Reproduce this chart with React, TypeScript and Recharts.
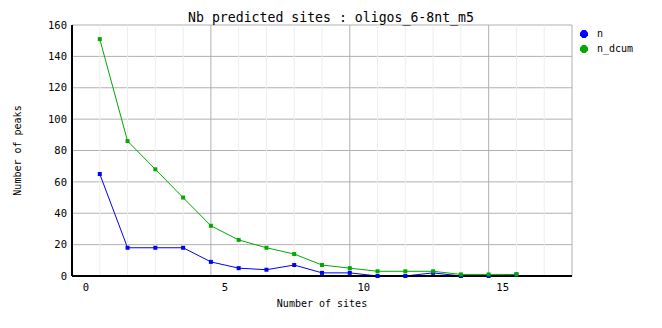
import { CartesianGrid, Line, LineChart, ReferenceLine, XAxis, YAxis } from "recharts";

const FONT = "'DejaVu Sans Mono', monospace";

const sites = [1, 2, 3, 4, 5, 6, 7, 8, 9, 10, 11, 12, 13, 14, 15, 16];
const nValues = [65, 18, 18, 18, 9, 5, 4, 7, 2, 2, 0, 0, 2, 0, 0, 1];
const nDcumValues = [151, 86, 68, 50, 32, 23, 18, 14, 7, 5, 3, 3, 3, 1, 1, 1];
const xTicks = [0, 5, 10, 15];
const minorXTicks = [1, 2, 3, 4, 6, 7, 8, 9, 11, 12, 13, 14, 16, 17];
const yTicks = [0, 20, 40, 60, 80, 100, 120, 140, 160];

const series = [
  { key: "n", color: "#0000ff" },
  { key: "n_dcum", color: "#00aa00" },
];

const data = sites.map((s, i) => ({ sites: s, n: nValues[i], n_dcum: nDcumValues[i] }));

function squareDot(color: string) {
  return (props: any) => {
    if (props.cx == null || props.cy == null) return <g key={`d-${props.index}`} />;
    return <rect key={`d-${props.index}`} x={props.cx - 2} y={props.cy - 2} width={4} height={4} fill={color} />;
  };
}

function LegendMark({ color }: { color: string }) {
  return (
    <svg width={8} height={8} style={{ display: "block" }}>
      <polygon points="2.5,0 5.5,0 8,2.5 8,5.5 5.5,8 2.5,8 0,5.5 0,2.5" fill={color} />
    </svg>
  );
}

export default function App() {
  return (
    <div style={{ position: "relative", width: 662, height: 328, background: "#fff" }}>
      <style>{"body{margin:0}"}</style>
      <LineChart width={662} height={328} data={data} margin={{ top: 25, right: 90, bottom: 22, left: 12 }}>
        {minorXTicks.map((t) => (
          <ReferenceLine key={t} x={t} stroke="#eeeeee" strokeWidth={1} />
        ))}
        <CartesianGrid stroke="#b0b0b0" strokeWidth={1} />
        <XAxis
          dataKey="sites"
          type="number"
          domain={[0, 18]}
          ticks={xTicks}
          interval={0}
          height={30}
          tickLine={false}
          axisLine={{ stroke: "#000", strokeWidth: 2 }}
          tick={{ dx: 14, fill: "#000", fontSize: 10.5, fontFamily: FONT }}
          label={{ value: "Number of sites", position: "insideBottom", offset: -1, style: { fontSize: 10, fontFamily: FONT, fill: "#000" } }}
        />
        <YAxis
          type="number"
          domain={[0, 160]}
          ticks={yTicks}
          interval={0}
          width={60}
          tickLine={false}
          tickSize={3}
          tickMargin={2}
          axisLine={{ stroke: "#000", strokeWidth: 2 }}
          tick={{ fill: "#000", fontSize: 10.5, fontFamily: FONT }}
          label={{
            value: "Number of peaks",
            angle: -90,
            position: "insideLeft",
            offset: 5.5,
            style: { textAnchor: "middle", fontSize: 10, fontFamily: FONT, fill: "#000" },
          }}
        />
        {series.map((s) => (
          <Line
            key={s.key}
            dataKey={s.key}
            type="linear"
            stroke={s.color}
            strokeWidth={1}
            dot={squareDot(s.color)}
            activeDot={false}
            isAnimationActive={false}
          />
        ))}
      </LineChart>
      <svg width={662} height={40} style={{ position: "absolute", left: 0, top: 0, pointerEvents: "none" }}>
        <text x={331} y={22} textAnchor="middle" fontFamily={FONT} fontSize={13.2} fill="#000">
          Nb predicted sites : oligos_6-8nt_m5
        </text>
      </svg>
      <div style={{ position: "absolute", left: 580, top: 26, fontFamily: FONT, fontSize: 10, lineHeight: "15px", color: "#000" }}>
        {series.map((s) => (
          <div key={s.key} style={{ display: "flex", alignItems: "center", height: 15 }}>
            <LegendMark color={s.color} />
            <span style={{ marginLeft: 9 }}>{s.key}</span>
          </div>
        ))}
      </div>
    </div>
  );
}
